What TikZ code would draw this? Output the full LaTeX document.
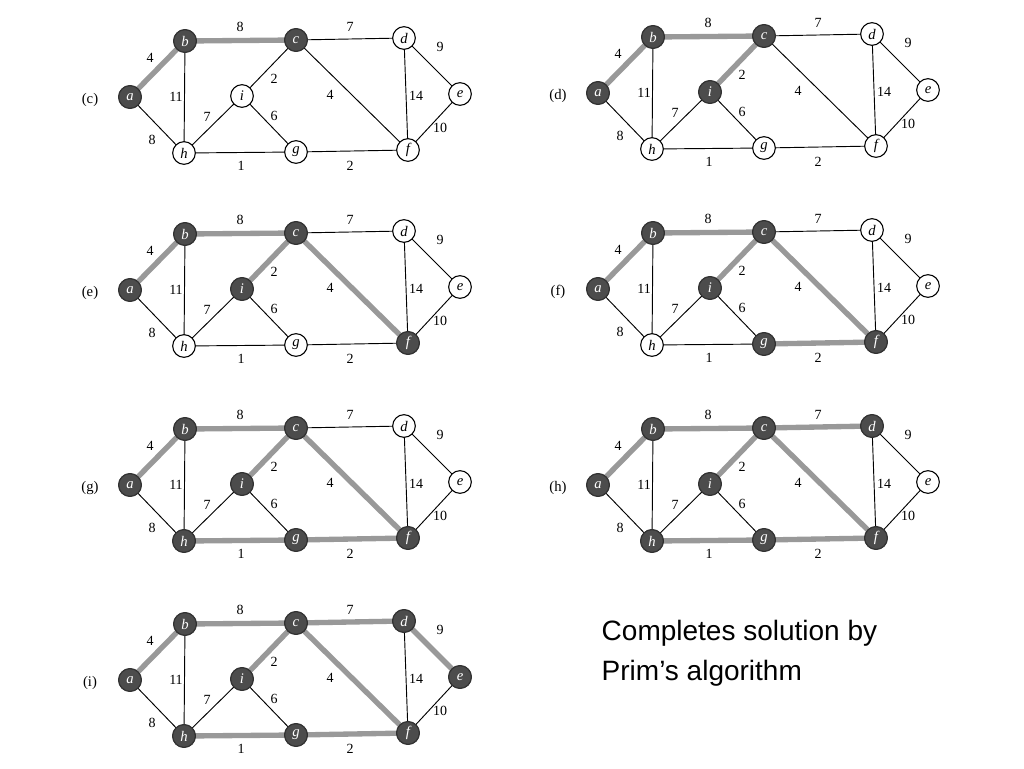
\documentclass[tikz,border=0pt]{standalone}
\usepackage{fontspec}
\newfontfamily\armain{Liberation Sans}
\setmainfont{Liberation Serif}
\tikzset{
  vtx/.style={circle,draw,line width=0.8pt,fill=white,minimum size=17pt,inner sep=0pt,font=\itshape\fontsize{11}{11}\selectfont},
  vfill/.style={vtx,fill=black!70,draw=black!80,text=white},
  plain/.style={line width=0.7pt},
  tree/.style={line width=4pt,draw=black!40},
  wl/.style={font=\fontsize{10.5}{10.5}\selectfont},
}
\newcommand\graphpanel[6]{%
\begin{scope}[shift={(#2,#3)}]
 \node[wl,font=\fontsize{11}{11}\selectfont] (#1lab) at (90,100) {(#4)};
 \foreach \n/\x/\y in {a/130/97,b/185/41,c/296/40,d/404/38,e/460/94,f/408/150,g/296/152,h/184/153,i/242/96}
   {\coordinate (#1p\n) at (\x,\y);}
 \foreach \u/\v in {a/b,b/c,c/d,d/e,e/f,d/f,c/f,c/i,i/g,h/i,b/h,a/h,h/g,g/f}
   {\draw[plain] (#1p\u) -- (#1p\v);}
 \foreach \u/\v in {#5} {\draw[tree] (#1p\u) -- (#1p\v);}
 \foreach \n in {a,b,c,d,e,f,g,h,i} {\node[vtx] (#1\n) at (#1p\n) {\n};}
 \foreach \n in {#6} {\node[vfill] (#1\n) at (#1p\n) {\n};}
 \foreach \t/\x/\y in {4/150/58,8/240/27,7/350/27,9/440/47,10/440/128,14/416/96,4/330/95,2/274/79,6/274/116,7/207/117,11/176/97,8/152/140,1/241/166,2/350/166}
   {\node[wl] at (\x,\y) {\t};}
\end{scope}}
\begin{document}
\begin{tikzpicture}[x=0.75pt,y=-0.75pt]
\useasboundingbox[fill=white] (0,0) rectangle (1024,768);
\graphpanel{C}{0}{0}{c}{a/b,b/c}{a,b,c}
\graphpanel{D}{468}{-4}{d}{a/b,b/c,c/i}{a,b,c,i}
\graphpanel{E}{0}{193}{e}{a/b,b/c,c/i,c/f}{a,b,c,i,f}
\graphpanel{F}{468}{192}{f}{a/b,b/c,c/i,c/f,f/g}{a,b,c,i,f,g}
\graphpanel{G}{0}{388}{g}{a/b,b/c,c/i,c/f,f/g,g/h}{a,b,c,i,f,g,h}
\graphpanel{H}{468}{388}{h}{a/b,b/c,c/i,c/f,f/g,g/h,c/d}{a,b,c,i,f,g,h,d}
\graphpanel{I}{0}{583}{i}{a/b,b/c,c/i,c/f,f/g,g/h,c/d,d/e}{a,b,c,i,f,g,h,d,e}
\node[anchor=west,align=left,font=\armain\fontsize{21}{30}\selectfont] (txt) at (597,653) {Completes solution by\\Prim’s algorithm};
\end{tikzpicture}
\end{document}
